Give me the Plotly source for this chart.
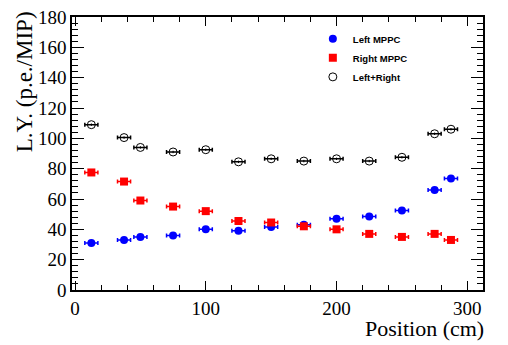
import plotly.graph_objects as go

# position along the bar (cm)
position = [12.5, 37.5, 50, 75, 100, 125, 150, 175, 200, 225, 250, 275, 287.5]
pos_err = [5] * len(position)

# light yield (p.e./MIP)
left_mppc = [31, 33, 35, 36, 40, 39, 41.5, 43, 47, 48.5, 52.5, 66, 73.5]
right_mppc = [77.5, 71.5, 59, 55, 52, 45.5, 44.5, 42, 40, 37, 35, 37, 33]
left_right = [109, 100.5, 94, 91, 92.5, 84.5, 86.5, 85, 86.5, 85, 87.5, 103, 106]
ly_err = [0.8] * len(position)

serif = "Liberation Serif"

fig = go.Figure()

series = [
    ("Left MPPC", left_mppc, dict(symbol="circle", color="#0000ff", size=8), "#0000ff"),
    ("Right MPPC", right_mppc, dict(symbol="square", color="#ff0000", size=8), "#ff0000"),
    ("Left+Right", left_right,
     dict(symbol="circle-open", color="black", size=8, line=dict(width=1)), "black"),
]
for name, vals, marker, col in series:
    fig.add_trace(go.Scatter(
        x=position, y=vals, mode="markers", name=name, marker=marker,
        error_x=dict(type="data", array=pos_err, color=col, thickness=1.5, width=2),
        error_y=dict(type="data", array=ly_err, color=col, thickness=1, width=0),
    ))

axis_common = dict(
    showline=True, linecolor="black", linewidth=1.5, mirror="ticks",
    ticks="inside", tickwidth=1, tickcolor="black",
    showgrid=False, zeroline=False,
    tickfont=dict(family=serif, size=19, color="black"),
)

fig.update_xaxes(range=[-2.3, 312], dtick=100, tick0=0, ticklen=9,
                 minor=dict(dtick=20, ticks="inside", ticklen=5, tickcolor="black"),
                 **axis_common)
fig.update_yaxes(range=[0, 180], dtick=20, tick0=0, ticklen=12,
                 minor=dict(dtick=4, ticks="inside", ticklen=6, tickcolor="black"),
                 **axis_common)

fig.add_annotation(text="Position (cm)", xref="paper", yref="paper", x=1.008, y=-0.088,
                   xanchor="right", yanchor="top", showarrow=False,
                   font=dict(family=serif, size=22, color="black"))
fig.add_annotation(text="L.Y. (p.e./MIP)", xref="paper", yref="paper", x=-0.117, y=1.03,
                   xanchor="center", yanchor="top", textangle=-90, showarrow=False,
                   font=dict(family=serif, size=23, color="black"))

fig.update_layout(
    width=508, height=345,
    margin=dict(l=72, r=25, t=17, b=55, autoexpand=False),
    plot_bgcolor="white", paper_bgcolor="white",
    legend=dict(x=0.586, y=0.973, xanchor="left", yanchor="top",
                bgcolor="rgba(0,0,0,0)",
                font=dict(family="Liberation Sans", size=9.5, color="black", weight="bold")),
)

fig.write_html("out.html", config={"displayModeBar": False},
               post_script="document.body.style.margin='0px';")
